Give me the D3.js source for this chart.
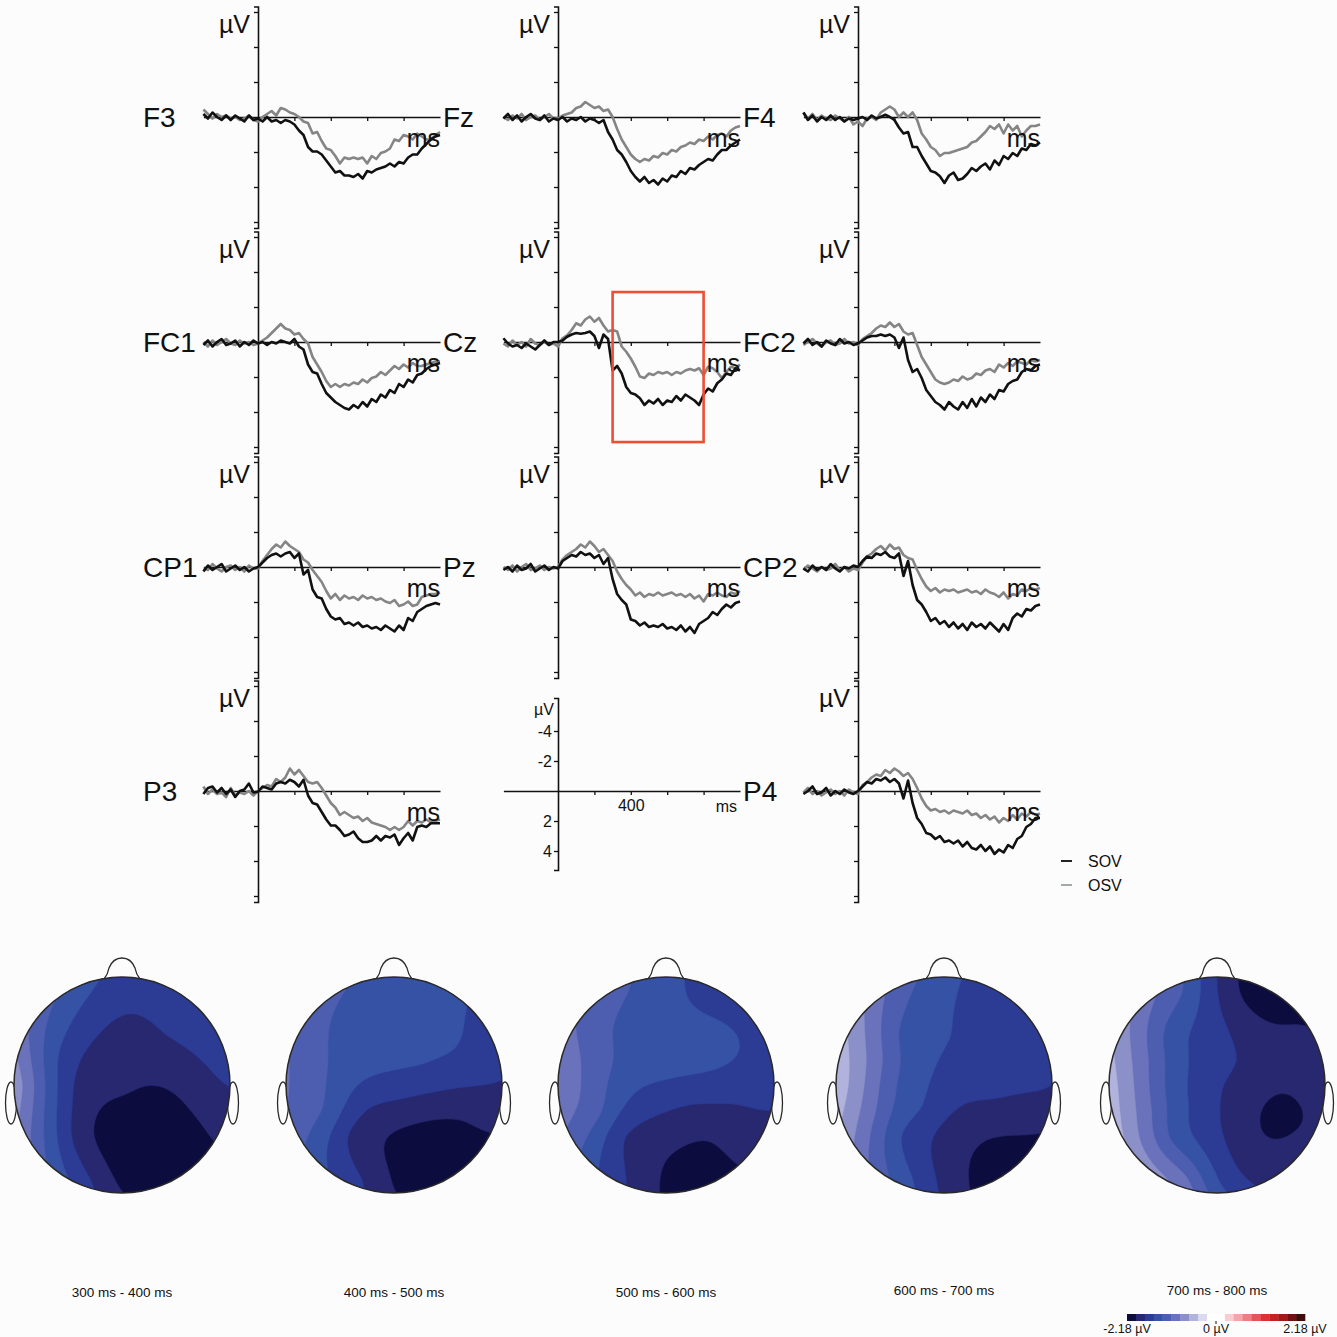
<!DOCTYPE html>
<html><head><meta charset="utf-8">
<script src="https://cdn.jsdelivr.net/npm/d3@7"></script>
<style>html,body{margin:0;padding:0;background:#fcfcfc;}svg{display:block;font-family:"Liberation Sans",Arial,sans-serif;}</style>
</head><body><svg id="c" width="1337" height="1337"></svg>
<script>
// ---------- DATA ----------
const times = d3.range(-300, 1001, 25); // sample times (ms)
const panelNames = ["F3","Fz","F4","FC1","Cz","FC2","CP1","Pz","CP2","P3","P4"];
const panelCol = [0,1,2,0,1,2,0,1,2,0,2];
const panelRow = [0,0,0,1,1,1,2,2,2,3,3];
const seriesNames = ["SOV","OSV"];
const xTickValues = [200,400,600,800];
const waveTicks = [-7, -14/3, -7/3, 7/3, 14/3, 7];
const scaleTicks = [-4,-2,2,4];

const sovF3 = [-0.2,0.1,-0.3,0.0,0.2,-0.1,0.2,-0.1,0.1,0.3,-0.1,0.2, 0.1,0.3,0.0,0.3,0.2,0.4,0.2,0.3,0.5, 0.9,1.2,2.0,2.3,2.3,2.5,2.9,3.3,3.7,3.6,3.9,3.9,4.0,3.8,4.1,3.6,3.7,3.5,3.4,3.3,3.1,3.3,3.0,3.1,2.7,2.5,2.5,2.1,1.8,1.5,1.3,1.2];
const osvF3 = [-0.5,-0.2,0.1,-0.2,0.0,-0.1,0.1,0.0,0.2,0.1,-0.1,0.2, 0.3,0.0,-0.2,-0.4,-0.1,-0.6,-0.5,-0.3,-0.2, 0.0,0.3,0.4,1.1,1.0,1.6,2.1,2.2,2.6,3.1,2.7,2.8,2.7,2.8,2.7,3.1,2.6,2.8,2.4,2.3,2.1,1.5,1.6,1.2,1.3,1.5,1.1,1.3,1.5,1.5,1.2,1.0];
const sovFz = [0.1,-0.2,0.2,-0.1,0.3,0.0,-0.2,0.1,0.2,-0.1,0.3,0.1, 0.2,0.0,0.3,0.1,0.2,0.0,0.3,0.1,0.2, 0.4,0.2,1.0,1.5,2.2,2.5,3.0,3.6,4.0,4.3,4.0,4.4,4.2,4.5,4.1,4.3,3.9,4.0,3.6,3.8,3.4,3.5,3.2,3.0,2.8,2.9,2.5,2.2,2.2,1.9,1.7,1.5];
const osvFz = [0.0,0.2,-0.1,0.1,-0.2,0.2,0.0,-0.1,0.2,0.0,-0.2,0.1, 0.1,-0.1,-0.2,-0.3,-0.6,-0.7,-1.0,-0.8,-0.6, -0.7,-0.4,-0.5,0.0,0.8,1.5,2.0,2.5,2.8,3.0,2.8,2.9,2.6,2.7,2.4,2.5,2.2,2.3,2.0,1.9,1.7,1.8,1.5,1.6,1.3,1.5,1.2,1.1,1.3,0.9,0.7,0.6];
const sovF4 = [-0.3,0.2,-0.1,0.3,0.0,0.2,-0.1,0.2,0.0,0.3,0.1,0.2, 0.1,0.0,0.2,-0.1,0.1,0.0,-0.15,0.0,0.2, 0.7,1.1,1.0,2.0,2.0,2.6,3.1,3.6,3.7,3.95,4.4,3.9,3.7,4.2,4.1,3.8,3.4,3.6,3.3,3.1,3.5,2.9,3.2,2.6,2.8,2.4,2.6,2.1,2.2,1.8,1.9,1.7];
const osvF4 = [-0.3,0.1,-0.2,0.2,-0.1,0.1,0.2,-0.1,0.1,0.3,0.0,0.5, 0.3,0.6,0.1,0.0,0.2,-0.3,-0.5,-0.7,-0.5, 0.0,-0.3,0.0,-0.3,0.2,1.1,1.5,2.0,2.2,2.6,2.4,2.4,2.3,2.2,2.1,2.0,1.7,1.6,1.3,1.0,0.6,0.8,0.5,1.1,0.5,0.9,0.6,1.3,0.9,0.6,0.6,0.5];
const sovFC1 = [0.2,-0.1,0.3,0.0,-0.2,0.2,0.1,-0.1,0.3,0.0,0.2,-0.1, 0.1,0.0,0.2,0.0,0.1,-0.1,0.0,0.1,-0.2, 0.3,0.5,1.5,2.0,2.1,2.8,3.4,3.7,4.0,4.2,4.4,4.5,4.2,4.4,4.0,4.3,3.8,4.0,3.5,3.7,3.2,3.4,2.8,3.0,2.5,2.7,2.2,2.1,1.8,1.6,1.5,1.4];
const osvFC1 = [0.0,0.3,-0.1,0.2,0.0,-0.2,0.1,0.2,-0.1,0.1,0.0,0.2, 0.1,-0.1,-0.3,-0.6,-0.9,-1.2,-0.9,-0.8,-0.5, -0.6,-0.2,0.1,1.0,1.5,2.0,2.6,3.0,2.8,3.0,2.8,2.9,2.7,2.8,2.5,2.7,2.4,2.3,2.0,2.2,1.9,1.6,1.8,1.5,1.7,1.4,1.6,1.6,1.5,1.4,1.3,1.3];
const sovCz = [-0.25,0.1,0.3,0.2,0.4,0.1,0.3,0.5,0.2,-0.1,0.2,0.0, 0.0,-0.1,-0.35,-0.5,-0.6,-0.55,-0.6,-0.7,-0.4, 0.4,-0.5,-0.2,1.9,1.6,2.1,3.0,3.4,3.5,3.75,4.2,3.9,4.1,3.8,4.2,3.9,4.0,3.6,3.9,3.5,3.7,3.9,4.2,3.5,3.1,3.3,2.75,2.5,2.1,2.2,1.75,1.9];
const osvCz = [0.1,0.3,-0.1,0.2,0.0,0.3,-0.2,0.1,0.2,0.0,0.2,0.1, 0.3,-0.25,-0.45,-0.8,-1.25,-1.1,-1.5,-1.7,-1.35, -1.6,-1.1,-0.7,-0.8,-0.7,0.3,0.65,1.1,1.65,2.3,2.4,2.1,2.2,2.0,2.1,2.0,2.2,2.0,2.1,1.9,1.8,1.9,1.75,2.2,1.65,1.75,2.0,2.4,2.0,1.65,1.75,1.5];
const sovFC2 = [0.1,-0.2,0.2,0.0,0.3,-0.1,0.1,0.2,-0.2,0.1,0.0,0.2, 0.1,-0.1,-0.3,-0.4,-0.4,-0.5,-0.4,-0.5,-0.3, 0.4,-0.3,1.2,2.0,1.8,2.4,3.2,3.6,4.0,4.2,4.5,4.0,4.3,4.5,4.0,4.4,3.8,4.3,3.7,4.0,3.5,3.8,3.2,3.3,2.8,2.6,2.5,2.0,1.8,1.9,1.6,1.5];
const osvFC2 = [0.2,0.0,-0.2,0.1,0.3,0.0,-0.1,0.2,0.1,-0.2,0.1,0.0, 0.2,-0.2,-0.4,-0.6,-0.9,-1.1,-1.0,-1.3,-1.0, -1.2,-0.7,-0.5,-0.6,0.2,1.0,1.5,2.0,2.5,2.7,2.8,2.7,2.5,2.6,2.3,2.5,2.4,2.1,2.2,1.9,1.8,2.0,1.5,1.7,1.4,1.6,1.3,1.4,1.5,1.2,1.3,1.2];
const sovCP1 = [0.3,-0.1,0.2,0.0,-0.2,0.3,0.1,-0.1,0.2,0.0,0.3,0.1, 0.0,-0.3,-0.6,-0.8,-0.9,-0.7,-0.9,-1.0,-0.6, -0.9,0.5,0.2,1.5,2.0,2.1,2.8,3.3,3.5,3.4,3.8,3.7,3.9,3.7,4.0,3.9,4.1,4.0,4.2,3.9,4.1,4.3,3.9,4.2,3.4,3.6,3.0,2.8,2.6,2.5,2.4,2.5];
const osvCP1 = [0.1,0.2,-0.2,0.1,0.3,0.0,-0.1,0.2,0.0,0.3,-0.1,0.1, 0.1,-0.4,-0.8,-1.2,-1.5,-1.3,-1.7,-1.4,-1.2, -1.0,-0.5,-0.3,0.2,0.6,1.0,1.6,2.1,1.8,2.2,1.9,2.1,2.0,2.2,1.9,2.1,2.0,2.2,2.1,2.3,2.4,2.2,2.6,2.5,2.3,2.6,2.5,2.0,1.9,1.8,1.8,1.7];
const sovPz = [0.2,0.0,0.3,-0.1,0.2,0.1,-0.2,0.3,0.1,-0.1,0.2,0.0, 0.1,-0.4,-0.6,-0.8,-0.7,-1.0,-0.8,-0.9,-0.6, -0.8,-0.2,-0.6,0.8,1.8,2.2,2.5,3.5,3.6,3.9,3.7,4.0,3.9,4.0,3.8,4.1,4.0,4.2,3.9,4.3,4.0,4.4,3.8,3.6,3.4,3.0,3.2,2.8,2.5,2.7,2.4,2.3];
const osvPz = [0.0,0.2,-0.1,0.3,0.0,-0.2,0.2,0.1,-0.1,0.2,0.0,0.1, 0.0,-0.5,-0.8,-1.0,-1.2,-1.5,-1.3,-1.7,-1.4, -1.0,-1.2,-0.8,-0.4,0.3,0.8,1.2,1.5,1.9,1.7,2.0,1.8,1.9,1.7,1.9,1.8,1.7,1.9,1.8,2.0,1.8,2.1,1.9,2.3,1.8,1.9,1.7,1.9,2.0,1.7,1.8,1.6];
const sovCP2 = [0.1,0.3,-0.1,0.2,0.0,0.2,-0.2,0.1,0.3,0.0,0.1,-0.1, 0.0,-0.4,-0.7,-0.6,-0.9,-0.8,-1.0,-0.7,-0.6, -0.9,0.6,-0.4,1.2,2.2,2.5,3.0,3.6,3.4,3.8,3.6,4.0,3.7,4.1,3.8,4.2,3.7,4.0,3.8,4.1,3.7,4.0,4.3,3.8,4.2,3.4,3.1,3.3,2.8,2.9,2.6,2.5];
const osvCP2 = [0.2,-0.1,0.1,0.3,0.0,0.2,0.1,-0.2,0.2,0.0,0.3,0.1, 0.2,-0.3,-0.7,-0.9,-1.2,-1.4,-1.1,-1.5,-1.2, -1.3,-0.8,-0.6,-0.5,0.2,0.8,1.3,1.6,1.4,1.7,1.5,1.6,1.5,1.7,1.6,1.5,1.7,1.6,1.8,1.5,1.7,1.8,2.0,1.7,2.1,1.8,1.9,1.5,1.6,1.4,1.5,1.4];
const sovP3 = [0.2,-0.2,-0.3,0.1,-0.2,0.2,-0.1,0.4,0.0,-0.1,-0.5,0.1, 0.05,-0.3,-0.2,-0.1,-0.5,-0.6,-0.5,-0.75,-0.6, -0.3,-0.75,0.3,0.8,0.9,1.4,1.9,2.3,2.3,2.6,3.0,2.9,2.7,3.15,3.4,3.4,3.3,3.0,3.3,3.0,3.1,2.9,3.6,3.15,2.8,3.3,2.4,2.3,2.4,2.15,2.15,2.15];
const osvP3 = [-0.3,0.2,-0.1,0.2,0.1,0.4,-0.2,0.3,0.1,0.2,0.0,0.3, 0.0,-0.2,-0.4,-0.3,-0.8,-0.6,-0.9,-1.5,-1.1, -1.4,-1.0,-0.6,-0.5,-0.6,-0.2,0.3,0.8,1.1,1.6,1.4,1.6,1.8,1.7,2.0,1.8,2.1,2.2,2.3,2.4,2.6,2.4,2.6,2.4,2.0,2.3,2.0,2.1,1.9,2.1,2.0,1.9];
const sovP4 = [0.2,0.0,-0.3,0.2,0.1,-0.2,0.3,0.0,0.2,-0.1,0.1,0.2, 0.0,-0.3,-0.6,-0.5,-0.8,-0.7,-0.9,-0.6,-0.8, -0.5,0.5,-0.7,0.8,1.8,2.2,2.8,2.9,3.2,3.0,3.4,3.3,3.5,3.3,3.7,3.4,3.8,3.9,3.6,4.0,3.7,4.2,3.9,4.1,3.6,3.8,3.2,3.0,2.4,2.2,1.8,1.8];
const osvP4 = [0.1,-0.2,0.2,0.0,0.3,0.1,-0.1,0.2,0.0,0.3,-0.1,0.1, 0.2,-0.4,-0.6,-0.9,-1.1,-1.0,-1.4,-1.2,-1.5, -1.3,-1.0,-1.2,-0.8,-0.2,0.5,1.0,1.3,1.2,1.4,1.3,1.5,1.3,1.4,1.5,1.3,1.6,1.5,1.8,1.6,1.9,1.7,2.1,1.8,2.0,1.6,1.9,1.5,1.7,1.4,1.6,1.5];

const sovSeries = [sovF3,sovFz,sovF4,sovFC1,sovCz,sovFC2,sovCP1,sovPz,sovCP2,sovP3,sovP4];
const osvSeries = [osvF3,osvFz,osvF4,osvFC1,osvCz,osvFC2,osvCP1,osvPz,osvCP2,osvP3,osvP4];

// analysis window highlighted on Cz (ms, µV)
const boxTimes = [300, 800];
const boxVolts = [-3.33, 6.67];

// topographic maps
const topoLabels = ["300 ms - 400 ms","400 ms - 500 ms","500 ms - 600 ms","600 ms - 700 ms","700 ms - 800 ms"];
const elecNames = ["Fp1","Fpz","Fp2","F7","F3","Fz","F4","F8","FC5","FC1","FC2","FC6","T7","C3","Cz","C4","T8","CP5","CP1","CP2","CP6","P7","P3","Pz","P4","P8","O1","Oz","O2"];
const elecX = [-0.3,0,0.3,-0.75,-0.4,0,0.4,0.75,-0.62,-0.22,0.22,0.62,-0.92,-0.46,0,0.46,0.92,-0.62,-0.22,0.22,0.62,-0.75,-0.4,0,0.4,0.75,-0.3,0,0.3];
const elecY = [0.88,0.92,0.88,0.55,0.47,0.45,0.47,0.55,0.25,0.22,0.22,0.25,0,0,0,0,0,-0.25,-0.22,-0.22,-0.25,-0.55,-0.47,-0.45,-0.47,-0.55,-0.88,-0.92,-0.88];
const topo300 = [-1.5,-1.65,-1.65,-1.25,-1.62,-1.82,-1.74,-1.62,-1.5,-1.84,-1.87,-1.78,-0.85,-1.74,-1.88,-1.93,-1.75,-1.5,-1.95,-2.1,-1.97,-1.25,-1.85,-2.1,-2.15,-2.0,-1.72,-2.0,-2.07];
const topo400 = [-1.35,-1.42,-1.46,-1.22,-1.42,-1.46,-1.47,-1.56,-1.3,-1.46,-1.5,-1.56,-1.12,-1.45,-1.6,-1.7,-1.75,-1.33,-1.76,-1.86,-1.93,-1.38,-1.8,-1.97,-2.05,-2.0,-1.72,-1.98,-2.05];
const topo500 = [-1.32,-1.42,-1.6,-1.15,-1.37,-1.42,-1.47,-1.56,-1.2,-1.42,-1.46,-1.52,-1.0,-1.4,-1.55,-1.6,-1.65,-1.25,-1.65,-1.78,-1.8,-1.32,-1.75,-1.86,-1.95,-1.86,-1.78,-2.0,-2.05];
const topo600 = [-1.3,-1.45,-1.6,-0.85,-1.35,-1.5,-1.6,-1.6,-1.0,-1.45,-1.6,-1.65,-0.6,-1.3,-1.6,-1.65,-1.72,-1.1,-1.5,-1.78,-1.85,-1.0,-1.55,-1.8,-1.95,-2.0,-1.5,-1.8,-2.0];
const topo700 = [-1.3,-1.75,-2.05,-0.95,-1.45,-1.65,-1.9,-1.95,-1.1,-1.55,-1.75,-1.9,-0.65,-1.35,-1.72,-1.9,-1.85,-1.05,-1.55,-1.85,-2.05,-0.8,-1.4,-1.7,-1.95,-1.9,-1.0,-1.5,-1.75];
const topoValues = [topo300, topo400, topo500, topo600, topo700];

const colorLimit = 2.18;
const colorbarLabels = ["-2.18 \u00b5V","0 \u00b5V","2.18 \u00b5V"];
const bandColors = ["#0c0d3e","#27286f","#2c3b94","#3652a4","#4d5daf","#6a72bb","#8b90c9","#b1b3dc","#d9daee",
  "#ffffff","#ffffff",
  "#f6cdd0","#f0a7ac","#ea7f84","#e4555a","#de2f33","#c8201f","#a01819","#6e1213","#3f0b0b"];

// ---------- DRAW ----------
const svg = d3.select("#c");
svg.append("rect").attr("width",1337).attr("height",1337).attr("fill","#fcfcfc");
const font = '"Liberation Sans", Arial, sans-serif';
const colX = [258, 558, 858];
const rowY = [117, 342, 567, 791];
const pxPerMs = 0.182, pxPerUv = 15;
const ink = "#111";
const sovColor = "#111", osvColor = "#858585";

function styleAxis(g){
  g.selectAll(".domain").attr("stroke", ink).attr("stroke-width", 1.6);
  g.selectAll(".tick line").attr("stroke", ink).attr("stroke-width", 1.3);
}

panelNames.forEach((name, i) => {
  const ox = colX[panelCol[i]], oy = rowY[panelRow[i]];
  const x = d3.scaleLinear().domain([-300, 1000]).range([ox - 300*pxPerMs, ox + 1000*pxPerMs]);
  const y = d3.scaleLinear().domain([-7.37, 7.4]).range([oy - 7.37*pxPerUv, oy + 7.4*pxPerUv]);
  const g = svg.append("g");
  const ya = g.append("g").attr("transform", `translate(${ox},0)`)
    .call(d3.axisLeft(y).tickValues(waveTicks).tickSize(4).tickSizeOuter(4).tickFormat(""));
  styleAxis(ya);
  const xa = g.append("g").attr("transform", `translate(0,${oy})`)
    .call(d3.axisBottom(x).tickValues(xTickValues).tickSize(4).tickSizeOuter(0).tickFormat(""));
  styleAxis(xa);
  const line = d3.line().x((d, k) => x(times[k])).y(d => y(d));
  g.append("path").attr("d", line(osvSeries[i])).attr("fill","none").attr("stroke", osvColor)
    .attr("stroke-width", 2.6).attr("stroke-linejoin","round");
  g.append("path").attr("d", line(sovSeries[i])).attr("fill","none").attr("stroke", sovColor)
    .attr("stroke-width", 2.6).attr("stroke-linejoin","round");
  g.append("text").attr("x", ox - 115).attr("y", oy + 10).attr("font-size", 28).attr("fill", ink)
    .attr("font-family", font).text(name);
  g.append("text").attr("x", ox - 8).attr("y", oy - 84).attr("text-anchor","end").attr("font-size", 25)
    .attr("fill", ink).attr("font-family", font).text("\u00b5V");
  g.append("text").attr("x", x(1000)).attr("y", oy + 30).attr("text-anchor","end").attr("font-size", 25)
    .attr("fill", ink).attr("font-family", font).text("ms");
  if (name === "Cz") {
    g.append("rect").attr("x", x(boxTimes[0])).attr("y", y(boxVolts[0]))
      .attr("width", x(boxTimes[1]) - x(boxTimes[0])).attr("height", y(boxVolts[1]) - y(boxVolts[0]))
      .attr("fill","none").attr("stroke","#ec4f33").attr("stroke-width", 2.6);
  }
});

// scale panel
{
  const ox = colX[1], oy = rowY[3];
  const x = d3.scaleLinear().domain([-300, 1000]).range([ox - 300*pxPerMs, ox + 1000*pxPerMs]);
  const y = d3.scaleLinear().domain([-6.2, 5.27]).range([oy - 6.2*pxPerUv, oy + 5.27*pxPerUv]);
  const g = svg.append("g").attr("font-family", font);
  const ya = g.append("g").attr("transform", `translate(${ox},0)`)
    .call(d3.axisLeft(y).tickValues(scaleTicks).tickSize(4).tickSizeOuter(4).tickFormat(d => String(d)));
  styleAxis(ya);
  ya.selectAll("text").attr("font-size", 16).attr("font-family", font).attr("fill", ink).attr("x", -6);
  const xa = g.append("g").attr("transform", `translate(0,${oy})`)
    .call(d3.axisBottom(x).tickValues(xTickValues).tickSize(4).tickSizeOuter(0).tickFormat(d => d === 400 ? "400" : ""));
  styleAxis(xa);
  xa.selectAll("text").attr("font-size", 16).attr("font-family", font).attr("fill", ink).attr("y", 9);
  g.append("text").attr("x", ox - 4).attr("y", y(-6.2) + 17).attr("text-anchor","end").attr("font-size", 16)
    .attr("fill", ink).text("\u00b5V");
  g.append("text").attr("x", x(1000) - 3).attr("y", oy + 21).attr("text-anchor","end").attr("font-size", 16)
    .attr("fill", ink).text("ms");
}

// legend
{
  const lg = svg.append("g").attr("font-family", font);
  [sovColor, osvColor].forEach((c, k) => {
    const yy = 861 + k*24;
    lg.append("line").attr("x1", 1061).attr("x2", 1072).attr("y1", yy).attr("y2", yy)
      .attr("stroke", k === 0 ? "#222" : "#a3aaa3").attr("stroke-width", 2);
    lg.append("text").attr("x", 1088).attr("y", yy + 6).attr("font-size", 16).attr("fill", ink).text(seriesNames[k]);
  });
}

// smoothing thin-plate spline interpolation of electrode values
function tps(xs, ys, vs, lambda){
  const n = xs.length, m = n + 3;
  const phi = r => r < 1e-9 ? 0 : r*r*Math.log(r);
  const A = [];
  for (let i = 0; i < m; i++) A.push(new Float64Array(m + 1));
  for (let i = 0; i < n; i++) {
    for (let j = 0; j < n; j++) A[i][j] = phi(Math.hypot(xs[i]-xs[j], ys[i]-ys[j]));
    A[i][i] += lambda;
    A[i][n] = 1; A[i][n+1] = xs[i]; A[i][n+2] = ys[i];
    A[n][i] = 1; A[n+1][i] = xs[i]; A[n+2][i] = ys[i];
    A[i][m] = vs[i];
  }
  for (let c = 0; c < m; c++) {
    let p = c;
    for (let r = c+1; r < m; r++) if (Math.abs(A[r][c]) > Math.abs(A[p][c])) p = r;
    [A[c], A[p]] = [A[p], A[c]];
    for (let r = 0; r < m; r++) {
      if (r === c) continue;
      const f = A[r][c] / A[c][c];
      if (f === 0) continue;
      for (let k = c; k <= m; k++) A[r][k] -= f * A[c][k];
    }
  }
  const w = A.map((row, i) => row[m] / row[i]);
  return (x, y) => {
    let s = w[n] + w[n+1]*x + w[n+2]*y;
    for (let i = 0; i < n; i++) s += w[i] * phi(Math.hypot(x - xs[i], y - ys[i]));
    return s;
  };
}

const topoCx = [122, 394, 666, 944, 1217];
const topoCy = 1085, R = 108;
const N = 180, ext = 1.03;
const cell = 2*ext*R/N;
const bandEdges = d3.range(21).map(k => -colorLimit + k*(2*colorLimit/20));
const contourThresholds = [-100].concat(bandEdges.slice(1, 20));
const defs = svg.append("defs");

topoValues.forEach((vals, mi) => {
  const cx = topoCx[mi], cy = topoCy;
  const f = tps(elecX, elecY, vals, 0.03);
  const grid = new Float64Array(N*N);
  for (let j = 0; j < N; j++) for (let i = 0; i < N; i++) {
    const gx = -ext + (i + 0.5)*2*ext/N;
    const gy = ext - (j + 0.5)*2*ext/N;
    grid[j*N + i] = f(gx, gy);
  }
  const contours = d3.contours().size([N, N]).thresholds(contourThresholds)(grid);
  const proj = d3.geoIdentity().scale(cell).translate([cx - ext*R, cy - ext*R]);
  const path = d3.geoPath(proj);
  const g = svg.append("g");
  [-1, 1].forEach(s => {
    g.append("ellipse").attr("cx", cx + s*(R + 3)).attr("cy", cy + 18).attr("rx", 5.5).attr("ry", 21)
      .attr("fill", "#fcfcfc").attr("stroke", "#2a2a2a").attr("stroke-width", 1.3);
  });
  const t = cy - R;
  g.append("path").attr("d", `M${cx-18},${t+2} Q${cx-14},${t-3} ${cx-13},${t-9} Q${cx-9},${t-19} ${cx},${t-19} Q${cx+9},${t-19} ${cx+13},${t-9} Q${cx+14},${t-3} ${cx+18},${t+2}`)
    .attr("fill","#fcfcfc").attr("stroke","#2a2a2a").attr("stroke-width",1.3);
  defs.append("clipPath").attr("id", "clip" + mi).append("circle").attr("cx", cx).attr("cy", cy).attr("r", R);
  const cg = g.append("g").attr("clip-path", `url(#clip${mi})`);
  cg.append("circle").attr("cx", cx).attr("cy", cy).attr("r", R).attr("fill", bandColors[0]);
  contours.forEach((c, k) => {
    cg.append("path").attr("d", path(c)).attr("fill", bandColors[k]).attr("stroke", bandColors[k]).attr("stroke-width", 0.5);
  });
  g.append("circle").attr("cx", cx).attr("cy", cy).attr("r", R).attr("fill","none").attr("stroke","#2a2a2a").attr("stroke-width",1.5);
  g.append("text").attr("x", cx).attr("y", mi < 3 ? 1297 : 1295).attr("text-anchor","middle")
    .attr("font-size", 13.5).attr("font-family", font).attr("fill", ink).text(topoLabels[mi]);
});

// colorbar
{
  const cb = d3.scaleLinear().domain([-colorLimit, colorLimit]).range([1127, 1305]);
  const g = svg.append("g").attr("font-family", font);
  bandColors.forEach((c, k) => {
    g.append("rect").attr("x", cb(bandEdges[k])).attr("y", 1314).attr("width", cb(bandEdges[k+1]) - cb(bandEdges[k]) + 0.3)
      .attr("height", 7).attr("fill", c);
  });
  g.append("line").attr("x1", cb(0)).attr("x2", cb(0)).attr("y1", 1321).attr("y2", 1324).attr("stroke", ink).attr("stroke-width", 1);
  [-colorLimit, 0, colorLimit].forEach((v, k) => {
    g.append("text").attr("x", cb(v)).attr("y", 1333).attr("text-anchor","middle").attr("font-size", 12.5)
      .attr("fill", ink).text(colorbarLabels[k]);
  });
}
</script></body></html>
